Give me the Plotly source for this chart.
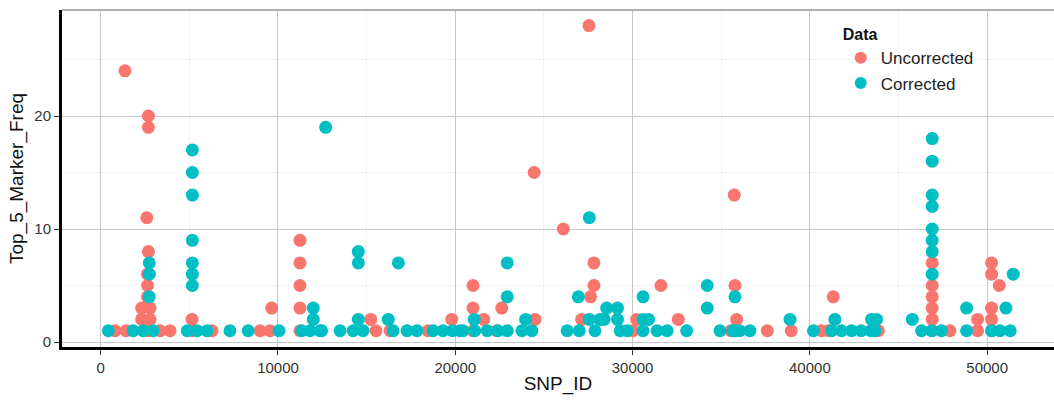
import plotly.graph_objects as go

# Uncorrected (red) points: SNP_ID, Top_5_Marker_Freq
unc_snp = [810, 1430, 1370,
           2690, 2690, 2600, 2690, 2640, 2640, 2640, 2310, 2780, 2310, 2780, 2690,
           3350, 3910, 5150, 5150, 6280, 8990, 9550, 9645,
           11240, 11240, 11240, 11240, 11240,
           15230, 15530, 16320, 18460, 19800, 21000, 21000, 21000, 21600, 22350, 22620,
           24500, 24450, 26090, 27130, 27540, 27820, 27820, 27630, 30020, 30230, 31600, 32580,
           35550, 35735, 35775, 35870, 37600, 38950, 40650, 41040, 41320, 43860,
           46900, 46900, 46900, 46900, 46900, 46900, 47900, 49460, 49460,
           50250, 50250, 50250, 50250, 50250, 50680]
unc_freq = [1, 1, 24,
            20, 19, 11, 8, 6, 5, 4, 3, 3, 2, 2, 1,
            1, 1, 2, 1, 1, 1, 1, 3,
            9, 7, 5, 3, 1,
            2, 1, 1, 1, 2, 5, 3, 1, 2, 1, 3,
            2, 15, 10, 2, 28, 7, 5, 4, 1, 2, 5, 2,
            1, 13, 5, 2, 1, 1, 1, 1, 4, 1,
            7, 5, 4, 3, 2, 1, 1, 2, 1,
            7, 6, 3, 2, 1, 5]

# Corrected (teal) points
cor_snp = [430, 1830, 2400, 2960, 2740, 2740, 2740,
           4880, 5440, 6000, 5170, 5170, 5170, 5170, 5170, 5170, 5170,
           7290, 8320, 10060, 11340, 11810, 12370, 12460, 11990, 11990, 12690,
           13500, 14240, 14800, 14530, 14530, 14530, 16220, 16490, 17280, 16790,
           17840, 18740, 19310, 19850, 20270, 20430, 21100, 21800, 22400, 21070,
           22930, 22930, 22930, 23760, 24320, 23970,
           26310, 26990, 26940, 27560, 27560, 27880, 28160, 28400, 28540, 29150, 29150,
           29300, 29700, 30590, 30900, 30590, 30590, 31380, 31950, 33050,
           34210, 34210, 34930, 35775, 35775, 35660, 36040, 36620,
           38880, 40200, 41410, 41230, 41790, 42350, 42900, 43440, 43670, 43480, 43760,
           45780, 46300, 46870, 47430,
           46900, 46900, 46900, 46900, 46900, 46900, 46900, 46900,
           48840, 48840, 50250, 50720, 51300, 51060, 51470]
cor_freq = [1, 1, 1, 1, 7, 6, 4,
            1, 1, 1, 17, 15, 13, 9, 7, 6, 5,
            1, 1, 1, 1, 1, 1, 1, 3, 2, 19,
            1, 1, 1, 8, 7, 2, 2, 1, 1, 7,
            1, 1, 1, 1, 1, 1, 1, 1, 1, 2,
            7, 4, 1, 1, 1, 2,
            1, 1, 4, 11, 2, 1, 2, 2, 3, 2, 3,
            1, 1, 2, 2, 4, 1, 1, 1, 1,
            5, 3, 1, 4, 1, 1, 1, 1,
            2, 1, 2, 1, 1, 1, 1, 1, 1, 2, 2,
            2, 1, 1, 1,
            18, 16, 13, 12, 10, 9, 8, 6,
            3, 1, 1, 1, 1, 3, 6]

x_ticks = [0, 10000, 20000, 30000, 40000, 50000]
y_ticks = [0, 10, 20]

RED = "#F8766D"
TEAL = "#00BFC4"
FONT = "Liberation Sans, Arial, sans-serif"

fig = go.Figure()
fig.add_trace(go.Scatter(x=unc_snp, y=unc_freq, mode="markers", name="Uncorrected",
                         marker=dict(color=RED, size=13, line=dict(width=0))))
fig.add_trace(go.Scatter(x=cor_snp, y=cor_freq, mode="markers", name="Corrected",
                         marker=dict(color=TEAL, size=13, line=dict(width=0))))

fig.update_layout(
    width=1054, height=400,
    margin=dict(l=62, r=0, t=10, b=53, autoexpand=False),
    plot_bgcolor="white", paper_bgcolor="white",
    font=dict(family=FONT, color="#333333", size=15),
    showlegend=True,
    legend=dict(x=0.785, y=0.972, xanchor="left", yanchor="top",
                title=dict(text="<b>Data</b>", font=dict(size=16, color="#111111")),
                font=dict(size=17, color="#222222"),
                bgcolor="rgba(255,255,255,0)", itemsizing="constant",
                tracegroupgap=0),
    xaxis=dict(range=[-2183, 53770], tickvals=x_ticks, ticktext=[str(v) for v in x_ticks],
               automargin=False,
               showgrid=True, gridcolor="#c8c8c8", gridwidth=1,
               minor=dict(dtick=5000, tick0=0, showgrid=True, gridcolor="#f3f3f3", gridwidth=1),
               showline=True, linecolor="black", linewidth=3,
               ticks="outside", ticklen=5, tickcolor="#333333",
               zeroline=False,
               tickfont=dict(size=15, color="#333333"),
               title=dict(text="SNP_ID", font=dict(size=19, color="#111111"), standoff=2)),
    yaxis=dict(range=[-0.44, 29.38], tickvals=y_ticks, ticktext=[str(v) for v in y_ticks],
               automargin=False,
               showgrid=True, gridcolor="#c8c8c8", gridwidth=1,
               minor=dict(dtick=5, tick0=0, showgrid=True, gridcolor="#f3f3f3", gridwidth=1),
               showline=True, linecolor="black", linewidth=3,
               ticks="outside", ticklen=5, tickcolor="#333333",
               zeroline=False,
               tickfont=dict(size=15, color="#333333"),
               title=dict(text="Top_5_Marker_Freq", font=dict(size=19, color="#111111"), standoff=6)),
)
fig.add_shape(type="line", xref="paper", yref="paper", x0=0, x1=1, y0=1, y1=1,
              line=dict(color="#b0b0b0", width=2))

fig.write_html("out.html", config={"displayModeBar": False},
               post_script="document.body.style.margin='0px';")
